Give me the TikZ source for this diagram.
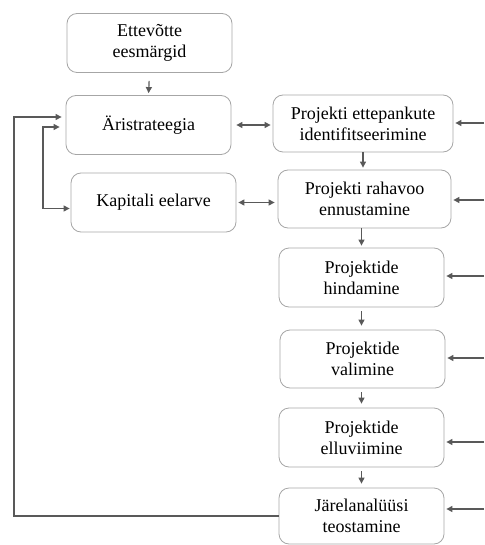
\documentclass[tikz,border=0pt]{standalone}
\usepackage{fontspec}
\setmainfont{Liberation Serif}
\usetikzlibrary{arrows.meta,calc}

\begin{document}
\begin{tikzpicture}[
  x=0.5pt,y=-0.5pt,
  font=\fontsize{9}{10.5}\selectfont,
  box/.style={draw=black!35,rounded corners=5pt,align=center,inner sep=0pt,
    minimum width=82.5pt,minimum height=29.5pt},
  flow/.style={-{Triangle[length=3pt,width=3pt]},draw=black!65,semithick},
  twoway/.style={{Triangle[length=3pt,width=3pt]}-{Triangle[length=3pt,width=3pt]},draw=black!65,semithick}]
\path[use as bounding box] (0,0) rectangle (484,545);
% left column
\node[box] (goals) at (149.5,43) {Ettevõtte\\eesmärgid};
\node[box] (strat) at (148.5,125) {Äristrateegia};
\node[box] (capital) at (153.5,202.5) {Kapitali eelarve};
% right column
\node[box,minimum width=90pt,minimum height=28.5pt] (ident) at (363,123.5)
  {Projekti ettepankute\\identifitseerimine};
\node[box,minimum width=86.5pt,minimum height=29pt] (cash) at (364.5,199)
  {Projekti rahavoo\\ennustamine};
\node[box] (eval) at (361.5,277.5) {Projektide\\hindamine};
\node[box,minimum height=29pt] (select) at (362.5,359) {Projektide\\valimine};
\node[box] (impl) at (361.5,437.5) {Projektide\\elluviimine};
\node[box,minimum height=28pt] (post) at (361.5,516) {Järelanalüüsi\\teostamine};
% free ends
\coordinate (in1) at (484,123);
\coordinate (in2) at (484,200);
\coordinate (in3) at (484,276);
\coordinate (in4) at (484,358);
\coordinate (in5) at (484,442);
\coordinate (in6) at (484,509);
\coordinate (loopA) at (14,0);
\coordinate (loopB) at (43,0);
\coordinate (stratA) at ($(strat.west)+(-4,-8)$);
\coordinate (stratB) at ($(strat.west)+(-6,2)$);
\coordinate (capB) at ($(capital.west)+(-1,6)$);
% main flow
\draw[flow,shorten <=4pt,shorten >=1pt] (goals.south) -- (strat.north);
\draw[flow,shorten >=1pt] (ident.south) -- (ident.south |- cash.north);
\draw[flow,shorten >=1pt] (cash.south -| eval.north) -- (eval.north);
\draw[flow,shorten <=2pt,shorten >=2pt] (eval.south) -- (eval.south |- select.north);
\draw[flow,shorten <=2pt,shorten >=2pt] (select.south -| impl.north) -- (impl.north);
\draw[flow,shorten <=2pt,shorten >=2pt] (impl.south) -- (post.north);
\draw[twoway,shorten <=2.5pt,shorten >=1pt] (strat.east) -- (strat.east -| ident.west);
\draw[twoway,shorten <=1pt,shorten >=1.5pt] (capital.east) -- (capital.east -| cash.west);
% inputs from the right
\foreach \i/\n in {1/ident,2/cash,3/eval,4/select,5/impl,6/post}
  \draw[flow,shorten >=1pt] (in\i) -- (in\i -| \n.east);
% feedback loops
\draw[flow] (post.west) -- (post.west -| loopA) -- (stratA -| loopA) -- (stratA);
\draw[twoway] (stratB) -- (stratB -| loopB) -- (capB -| loopB) -- (capB);
\end{tikzpicture}
\end{document}
